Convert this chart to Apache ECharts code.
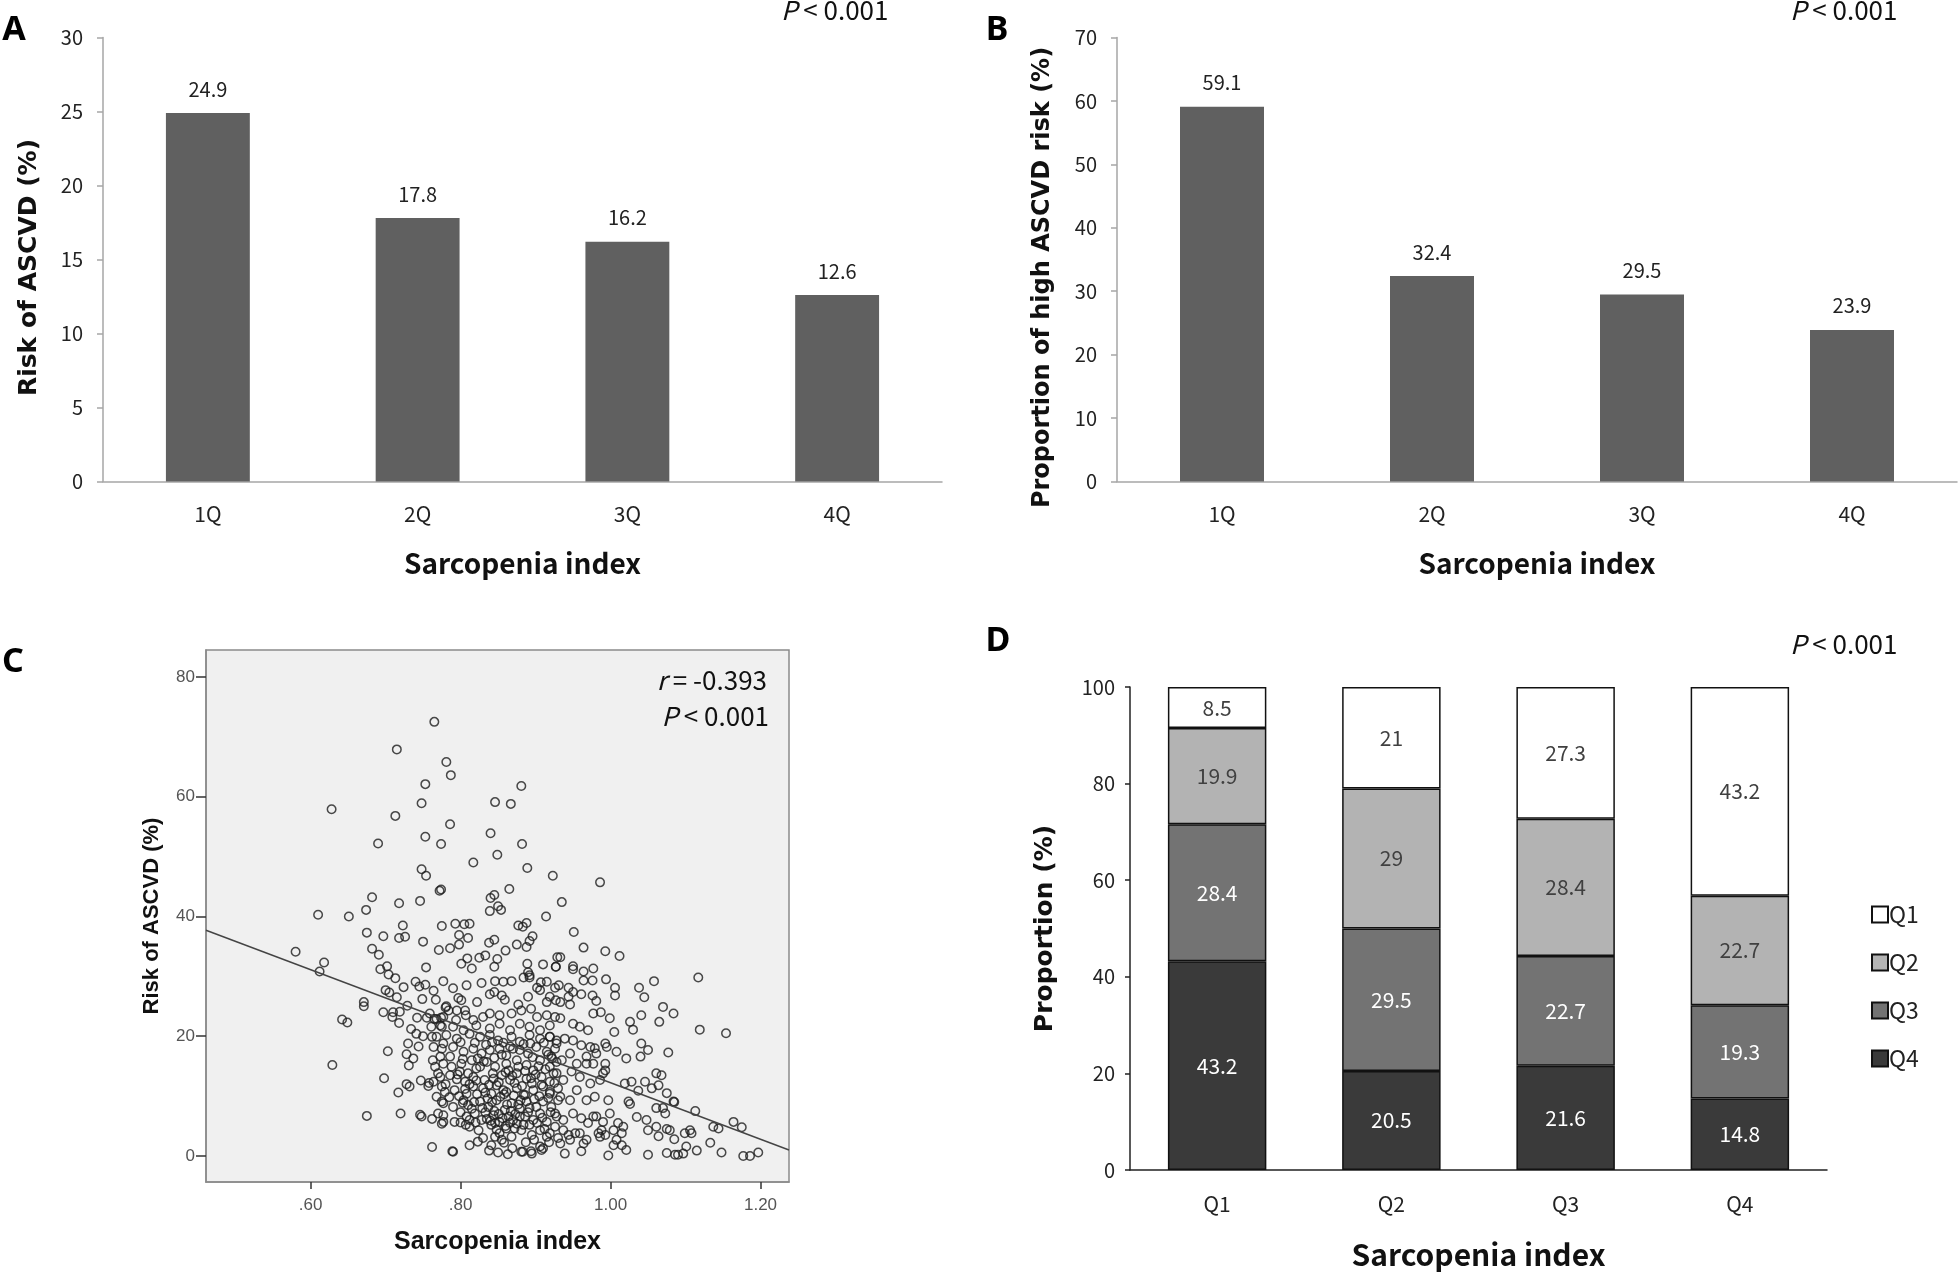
<!DOCTYPE html>
<html>
<head>
<meta charset="utf-8">
<script src="https://cdn.jsdelivr.net/npm/echarts@6/dist/echarts.min.js"></script>
<style>
html,body{margin:0;padding:0;background:#fff;}
#chart{width:1960px;height:1272px;}
</style>
</head>
<body>
<div id="chart"></div>
<script>
// ---------------- DATA ----------------
const catsAB = ['1Q', '2Q', '3Q', '4Q'];
const riskASCVD = [24.9, 17.8, 16.2, 12.6];
const propHighRisk = [59.1, 32.4, 29.5, 23.9];

const catsD = ['Q1', 'Q2', 'Q3', 'Q4'];
const stackQ4 = [43.2, 20.5, 21.6, 14.8];
const stackQ3 = [28.4, 29.5, 22.7, 19.3];
const stackQ2 = [19.9, 29, 28.4, 22.7];
const stackQ1 = [8.5, 21, 27.3, 43.2];

const xTickValsC = [0.6, 0.8, 1.0, 1.2];
const xTickLabelsC = ['.60', '.80', '1.00', '1.20'];
const yTickValsC = [0, 20, 40, 60, 80];

// regression line endpoints (read at the frame edges)
const fitLine = [[0.4605, 37.7], [1.238, 1.0]];

// scatter points [sarcopenia index, risk of ASCVD %]
const scatterPts = [
 [0.765,72.5],[0.715,67.9],[0.781,65.8],[0.787,63.6],[0.753,62.1],[0.881,61.8],[0.748,58.9],[0.846,59.1],[0.867,58.8],[0.628,57.9],
 [0.713,56.8],[0.786,55.4],[0.840,53.9],[0.753,53.3],[0.690,52.2],[0.774,52.1],[0.882,52.1],[0.849,50.3],[0.817,49.0],[0.889,48.1],
 [0.748,47.9],[0.754,46.8],[0.772,44.3],[0.774,44.5],[0.865,44.6],[0.840,43.1],[0.845,43.6],[0.682,43.2],[0.674,41.1],[0.718,42.2],
 [0.746,42.6],[0.839,40.9],[0.850,41.7],[0.854,41.1],[0.610,40.3],[0.651,40.0],[0.923,46.8],[0.986,45.7],[0.935,42.4],[0.914,40.0],
 [0.675,37.3],[0.723,38.5],[0.718,36.4],[0.726,36.6],[0.697,36.7],[0.775,38.4],[0.750,35.8],[0.771,34.4],[0.580,34.1],[0.682,34.6],
 [0.691,33.6],[0.618,32.3],[0.612,30.8],[0.693,31.2],[0.702,31.7],[0.704,30.3],[0.713,29.7],[0.754,31.5],[0.740,29.1],[0.745,28.3],
 [0.753,28.6],[0.724,28.2],[0.777,29.2],[0.700,27.7],[0.705,27.3],[0.715,26.5],[0.749,26.2],[0.764,27.6],[0.767,26.1],[0.729,25.1],
 [0.671,25.7],[0.671,25.0],[0.697,24.0],[0.710,24.0],[0.709,23.2],[0.719,24.1],[0.718,22.2],[0.742,23.1],[0.755,23.1],[0.765,22.9],
 [0.774,23.1],[0.780,24.8],[0.642,22.8],[0.649,22.3],[0.734,21.2],[0.741,20.4],[0.750,20.0],[0.762,19.9],[0.730,18.8],[0.744,18.3],
 [0.728,17.0],[0.737,16.3],[0.731,15.1],[0.703,17.5],[0.629,15.2],[0.763,16.0],[0.698,13.0],[0.747,12.6],[0.758,12.2],[0.728,12.0],
 [0.732,11.6],[0.717,10.6],[0.675,6.7],[0.720,7.1],[0.748,6.6],[0.762,6.2],[0.775,5.4],[0.762,1.5],[0.789,0.8],[0.746,6.9],
 [0.757,11.7],[0.800,5.6],
 [0.759,23.8],[0.768,22.9],[0.761,21.6],[0.773,21.8],[0.768,19.9],[0.777,18.8],[0.764,18.2],[0.773,16.6],[0.766,14.9],[0.770,13.8],
 [0.764,12.4],[0.775,11.6],[0.768,9.9],[0.777,8.8],[0.770,7.1],[0.777,5.7],
 [0.793,38.8],[0.805,38.7],[0.812,38.8],[0.877,38.5],[0.883,38.3],[0.888,38.9],[0.798,36.9],[0.810,36.4],[0.786,34.7],[0.798,35.3],
 [0.838,35.6],[0.845,36.1],[0.875,35.3],[0.892,35.9],[0.896,36.7],[0.888,34.9],[0.860,34.3],[0.825,33.1],[0.833,33.5],[0.849,32.9],
 [0.845,31.6],[0.801,32.1],[0.809,33.0],[0.815,31.3],[0.889,32.1],[0.910,32.0],[0.927,31.6],[0.929,33.2],[0.890,30.7],[0.892,30.2],
 [0.884,29.8],[0.892,29.8],[0.790,28.0],[0.808,28.5],[0.828,28.9],[0.846,29.2],[0.857,29.1],[0.868,29.2],[0.907,29.0],[0.915,29.1],
 [0.931,28.5],[0.902,28.1],[0.906,27.7],[0.822,25.7],[0.839,27.0],[0.845,27.4],[0.855,26.8],[0.859,26.1],[0.797,26.4],[0.801,26.0],
 [0.781,25.0],[0.784,24.3],[0.795,24.3],[0.806,24.3],[0.877,25.3],[0.890,26.6],[0.894,24.6],[0.915,25.7],[0.919,26.6],[0.927,26.0],
 [0.777,23.2],[0.794,22.7],[0.807,23.5],[0.817,22.7],[0.830,23.2],[0.839,23.8],[0.852,23.5],[0.868,23.8],[0.881,24.3],[0.902,23.2],
 [0.915,23.5],[0.926,23.2],[0.775,21.6],[0.790,21.6],[0.804,21.0],[0.821,21.8],[0.839,21.3],[0.852,22.1],[0.866,21.0],[0.879,22.1],
 [0.892,21.6],[0.906,21.0],[0.919,21.8],
 [0.781,20.2],[0.795,19.6],[0.812,20.4],[0.826,19.9],[0.839,20.2],[0.850,19.3],[0.868,19.9],[0.879,19.1],[0.892,20.2],[0.906,19.6],
 [0.919,19.9],[0.928,19.3],[0.775,17.9],[0.790,18.2],[0.804,17.4],[0.817,17.9],[0.828,17.1],[0.839,17.7],[0.852,17.9],[0.861,16.8],
 [0.879,17.7],[0.890,17.1],[0.901,18.2],[0.915,17.4],[0.926,17.9],[0.777,15.4],[0.788,14.9],[0.801,15.4],[0.815,16.0],[0.821,14.6],
 [0.835,15.7],[0.846,14.9],[0.861,15.4],[0.864,14.3],[0.875,16.0],[0.888,15.2],[0.897,14.3],[0.906,16.0],[0.919,14.9],[0.928,15.7],
 [0.773,13.2],[0.786,13.5],[0.799,14.1],[0.806,12.4],[0.817,13.2],[0.832,12.7],[0.844,12.9],[0.855,13.5],[0.866,12.7],[0.875,13.8],
 [0.888,12.9],[0.895,12.1],[0.908,13.2],[0.919,12.4],[0.928,13.8],[0.779,10.7],[0.792,11.0],[0.808,10.4],[0.817,11.6],[0.830,11.3],
 [0.841,10.4],[0.848,11.8],[0.861,10.7],[0.875,11.3],[0.884,10.2],[0.897,11.0],[0.910,11.6],[0.919,10.4],[0.930,11.3],[0.775,9.1],
 [0.790,8.2],[0.804,9.3],[0.815,7.9],[0.826,9.1],[0.837,8.2],[0.848,9.3],[0.859,7.7],[0.868,8.8],[0.879,7.9],[0.888,9.1],
 [0.901,8.2],[0.910,9.1],[0.921,8.2],[0.930,9.3],[0.777,6.8],[0.792,5.7],[0.808,6.6],[0.819,7.1],[0.828,6.0],[0.844,6.8],
 [0.852,5.7],[0.864,6.6],[0.875,5.4],[0.886,6.6],[0.897,6.0],[0.906,7.1],[0.915,5.7],[0.928,6.6],[0.812,4.9],[0.824,4.3],
 [0.841,5.2],[0.852,3.8],[0.861,4.6],[0.868,3.2],[0.881,4.3],[0.895,3.5],[0.906,4.3],[0.915,3.2],[0.926,4.9],[0.790,0.7],
 [0.812,1.8],[0.841,1.8],[0.855,2.7],[0.881,0.7],[0.895,0.4],[0.906,1.6],[0.910,1.3],
 [0.786,16.6],[0.800,19.0],[0.810,13.8],[0.823,16.3],[0.834,18.6],[0.845,16.4],[0.857,18.9],[0.870,17.9],[0.884,18.7],[0.896,16.5],
 [0.911,18.9],[0.922,16.3],[0.780,12.0],[0.795,12.8],[0.812,12.0],[0.826,14.9],[0.838,11.9],[0.851,12.3],[0.860,14.0],[0.872,12.2],
 [0.886,14.2],[0.900,13.6],[0.913,14.5],[0.925,12.2],[0.785,9.8],[0.798,10.0],[0.810,8.5],[0.822,10.3],[0.836,9.6],[0.845,7.5],
 [0.853,9.9],[0.862,8.6],[0.871,10.1],[0.880,9.3],[0.892,8.0],[0.905,10.0],[0.917,9.7],[0.800,7.3],[0.812,6.0],[0.833,7.3],
 [0.840,5.9],[0.848,4.4],[0.856,6.3],[0.866,5.5],[0.873,7.0],[0.884,5.2],[0.890,7.3],[0.902,5.5],[0.912,4.5],[0.920,7.3],
 [0.830,3.0],[0.846,3.2],[0.858,2.2],[0.872,4.6],[0.887,2.3],[0.898,2.7],[0.918,2.3],[0.869,1.3],[0.850,0.6],[0.863,0.3],
 [0.838,0.9],[0.883,0.7],[0.894,0.8],[0.908,1.0],
 [0.803,16.2],[0.819,18.9],[0.831,15.8],[0.842,19.0],[0.855,16.9],[0.866,18.3],[0.877,14.9],[0.893,18.8],[0.904,15.0],[0.917,16.9],
 [0.796,13.6],[0.806,11.2],[0.821,12.6],[0.833,10.6],[0.843,13.8],[0.857,11.0],[0.869,13.4],[0.882,11.7],[0.894,13.0],[0.908,11.9],
 [0.803,8.9],[0.818,9.0],[0.829,8.0],[0.842,9.0],[0.851,7.0],[0.858,10.3],[0.867,7.5],[0.877,8.6],[0.886,10.2],[0.898,9.5],
 [0.807,5.2],[0.820,5.6],[0.835,6.2],[0.846,5.5],[0.860,5.0],[0.870,6.0],[0.879,6.6],[0.892,5.2],[0.909,6.4],[0.823,2.4],
 [0.951,37.4],[0.964,34.8],[0.993,34.2],[1.012,33.4],[0.933,33.2],[0.927,31.6],[0.950,31.7],[0.950,31.2],[0.964,30.8],[0.977,31.3],
 [0.964,29.3],[0.976,29.3],[0.994,29.5],[1.006,28.1],[1.006,26.8],[1.058,29.2],[1.038,28.1],[1.045,26.5],[0.926,28.1],[0.944,28.1],
 [0.950,27.4],[0.933,25.7],[0.946,25.3],[0.961,27.0],[0.944,26.6],[0.976,26.8],[0.981,25.9],[0.977,23.8],[0.987,24.0],[0.999,23.0],
 [1.070,24.9],[1.084,23.8],[1.065,22.4],[1.041,23.5],[1.026,22.4],[1.030,21.1],[1.005,20.7],[0.933,23.0],[0.950,22.1],[0.959,21.6],
 [0.970,21.0],[0.993,18.8],[0.995,18.2],[0.979,18.0],[1.041,18.8],[1.050,17.7],[1.040,16.6],[1.021,16.3],[1.008,17.4],[1.077,17.3],
 [0.968,15.4],[0.977,15.4],[0.990,13.8],[0.993,15.4],[1.019,12.1],[1.028,12.4],[1.037,10.9],[1.024,9.1],[1.026,8.7],[1.046,12.4],
 [1.055,11.3],[1.061,13.8],[1.068,13.5],[1.064,11.8],[1.075,10.5],[1.084,9.1],[1.061,8.0],[1.070,8.0],[1.073,7.1],[1.035,6.5],
 [1.048,6.0],[1.050,4.3],[1.061,4.9],[1.075,4.5],[1.064,3.3],[1.085,2.8],[1.004,4.3],[1.015,3.8],[1.004,1.8],[1.021,1.0],
 [0.997,0.1],[1.050,0.2],[1.075,0.5],[1.086,0.2],[0.939,0.4],[0.961,0.8],[0.964,2.1],[0.986,3.2],[0.988,4.3],[0.990,5.7],
 [0.977,6.6],[0.933,2.1],[0.946,2.7],[0.953,3.8],[0.937,4.3],
 [0.919,19.9],[0.928,18.8],[0.939,19.6],[0.950,19.3],[0.961,18.5],[0.973,18.2],[0.921,16.6],[0.935,16.0],[0.946,17.1],[0.955,15.4],
 [0.968,16.6],[0.981,17.1],[0.924,13.8],[0.937,12.7],[0.948,14.1],[0.959,13.2],[0.973,12.1],[0.986,12.7],[0.993,14.3],[0.919,10.7],
 [0.933,9.9],[0.946,9.3],[0.955,11.0],[0.968,9.3],[0.979,9.9],[0.997,9.3],[0.926,7.1],[0.937,6.0],[0.950,7.1],[0.961,6.3],
 [0.970,5.5],[0.981,6.6],[0.999,7.1],[1.010,5.5],[1.017,4.9],[0.919,3.8],[0.930,3.0],[0.944,3.5],[0.959,3.8],[0.968,2.7],
 [0.984,3.8],[0.993,3.5],[1.008,2.7],[1.015,1.8],
 [1.117,29.8],[1.119,21.1],[1.154,20.5],[1.085,9.0],[1.113,7.5],[1.164,5.7],[1.175,4.8],[1.137,4.9],[1.144,4.6],[1.079,4.3],
 [1.099,3.8],[1.106,4.3],[1.108,3.8],[1.133,2.2],[1.115,0.9],[1.148,0.6],[1.177,0.0],[1.186,0.0],[1.197,0.6],[1.090,0.2],
 [1.097,0.4],[1.101,1.6]
];

// ---------------- STYLE ----------------
const fKR = '"Noto Sans CJK KR", "Noto Sans", sans-serif';
const fBoldWide = '"DejaVu Sans", sans-serif';
const fSPSS = '"Liberation Sans Narrow", "Liberation Sans", Arial, sans-serif';
const barGray = '#606060';
const axisGray = '#a6a6a6';

function barPanelAxes(gridIndex, cats, yMax, yName, yNameSize, yNameGap, yNamePad) {
  return {
    x: {
      type: 'category', gridIndex, data: cats,
      axisLine: { lineStyle: { color: axisGray, width: 1.5 } },
      axisTick: { show: false },
      axisLabel: { color: '#222', fontSize: 21, fontFamily: fKR, margin: 22 },
      name: 'Sarcopenia index', nameLocation: 'middle', nameGap: 68,
      nameTextStyle: { color: '#111', fontSize: 28, fontFamily: fKR, fontWeight: 'bold' }
    },
    y: {
      type: 'value', gridIndex, min: 0, max: yMax, interval: yMax === 30 ? 5 : 10,
      splitLine: { show: false },
      axisLine: { show: true, lineStyle: { color: axisGray, width: 1.5 } },
      axisTick: { show: true, length: 6, lineStyle: { color: axisGray, width: 1.5 } },
      axisLabel: { color: '#222', fontSize: 20, fontFamily: fKR, margin: 20 },
      name: yName, nameLocation: 'middle', nameGap: yNameGap, nameRotate: 90,
      nameTextStyle: { color: '#111', fontSize: yNameSize, fontFamily: fBoldWide, fontWeight: 'bold', padding: yNamePad }
    }
  };
}

const axA = barPanelAxes(0, catsAB, 30, 'Risk of ASCVD (%)', 25, 61, [0, 16, 0, 0]);
const axB = barPanelAxes(1, catsAB, 70, 'Proportion of high ASCVD risk (%)', 24, 62, [0, 36, 0, 0]);

const stackColors = { Q1: '#ffffff', Q2: '#b3b3b3', Q3: '#737373', Q4: '#3a3a3a' };
function stackSeries(name, data, labelColor) {
  return {
    type: 'bar', name, stack: 'd', xAxisIndex: 3, yAxisIndex: 3, data,
    barWidth: '56.5%',
    itemStyle: { color: stackColors[name], borderColor: '#111', borderWidth: 1.5 },
    label: { show: true, position: 'inside', color: labelColor, fontSize: 21, fontFamily: fKR },
    z: 2
  };
}

const chart = echarts.init(document.getElementById('chart'), null, { renderer: 'canvas' });

const pText = (size) => ({ text: '{i|P} < 0.001', rich: { i: { fontStyle: 'italic', fontSize: size, fontFamily: fKR, fill: '#111' } }, fontSize: size, fontFamily: fKR, fill: '#111', textVerticalAlign: 'middle' });

const option = {
  backgroundColor: '#ffffff',
  animation: false,
  grid: [
    { left: 103, top: 37.5, width: 839, height: 444 },
    { left: 1117, top: 37.5, width: 840, height: 444 },
    { left: 206, top: 650, width: 583, height: 532, show: true, backgroundColor: '#f0f0f0', borderColor: '#8a8a8a', borderWidth: 1.5 },
    { left: 1130, top: 687, width: 697, height: 483 }
  ],
  legend: {
    orient: 'vertical', left: 1866, top: 898,
    data: ['Q1', 'Q2', 'Q3', 'Q4'],
    itemWidth: 16, itemHeight: 16, itemGap: 25,
    icon: 'rect',
    textStyle: { color: '#222', fontSize: 23, fontFamily: fKR, padding: [0, 0, 0, -4] }
  },
  xAxis: [
    axA.x, axB.x,
    {
      type: 'value', gridIndex: 2, min: 0.4605, max: 1.238,
      splitLine: { show: false },
      axisLine: { show: true, onZero: false, lineStyle: { color: '#8a8a8a', width: 1.5 } },
      axisTick: { show: true, inside: false, length: 7, customValues: xTickValsC, lineStyle: { color: '#333', width: 1.5 } },
      axisLabel: {
        customValues: xTickValsC, color: '#555', fontSize: 17, fontFamily: fSPSS, margin: 15,
        formatter: v => xTickLabelsC[xTickValsC.findIndex(t => Math.abs(t - v) < 1e-6)]
      },
      name: 'Sarcopenia index', nameLocation: 'middle', nameGap: 48,
      nameTextStyle: { color: '#111', fontSize: 25, fontFamily: fSPSS, fontWeight: 'bold' }
    },
    {
      type: 'category', gridIndex: 3, data: catsD,
      axisLine: { lineStyle: { color: '#222', width: 1.5 } },
      axisTick: { show: false },
      axisLabel: { color: '#222', fontSize: 21, fontFamily: fKR, margin: 24 },
      name: 'Sarcopenia index', nameLocation: 'middle', nameGap: 70,
      nameTextStyle: { color: '#111', fontSize: 30, fontFamily: fKR, fontWeight: 'bold' }
    }
  ],
  yAxis: [
    axA.y, axB.y,
    {
      type: 'value', gridIndex: 2, min: -4.34, max: 84.5,
      splitLine: { show: false },
      axisLine: { show: true, onZero: false, lineStyle: { color: '#8a8a8a', width: 1.5 } },
      axisTick: { show: true, inside: false, length: 10, customValues: yTickValsC, lineStyle: { color: '#333', width: 1.5 } },
      axisLabel: { customValues: yTickValsC, color: '#555', fontSize: 17, fontFamily: fSPSS, margin: 11 },
      name: 'Risk of ASCVD (%)', nameLocation: 'middle', nameGap: 43, nameRotate: 90,
      nameTextStyle: { color: '#111', fontSize: 22, fontFamily: '"Liberation Sans", Arial, sans-serif', fontWeight: 'bold' }
    },
    {
      type: 'value', gridIndex: 3, min: 0, max: 100, interval: 20,
      splitLine: { show: false },
      axisLine: { show: true, lineStyle: { color: '#222', width: 1.5 } },
      axisTick: { show: true, length: 5, lineStyle: { color: '#222', width: 1.5 } },
      axisLabel: { color: '#222', fontSize: 20, fontFamily: fKR, margin: 15 },
      name: 'Proportion (%)', nameLocation: 'middle', nameGap: 72, nameRotate: 90,
      nameTextStyle: { color: '#111', fontSize: 25, fontFamily: fBoldWide, fontWeight: 'bold' }
    }
  ],
  series: [
    {
      type: 'bar', xAxisIndex: 0, yAxisIndex: 0, data: riskASCVD, barWidth: '40%',
      itemStyle: { color: barGray },
      label: { show: true, position: 'top', distance: 14, color: '#222', fontSize: 20, fontFamily: fKR, formatter: p => p.value.toFixed(1) }
    },
    {
      type: 'bar', xAxisIndex: 1, yAxisIndex: 1, data: propHighRisk, barWidth: '40%',
      itemStyle: { color: barGray },
      label: { show: true, position: 'top', distance: 14, color: '#222', fontSize: 20, fontFamily: fKR, formatter: p => p.value.toFixed(1) }
    },
    {
      type: 'scatter', xAxisIndex: 2, yAxisIndex: 2, data: scatterPts,
      symbol: 'circle', symbolSize: 8.5,
      itemStyle: { color: 'rgba(0,0,0,0)', borderColor: '#1e1e1e', borderWidth: 1.5 },
      z: 3
    },
    {
      type: 'line', xAxisIndex: 2, yAxisIndex: 2, data: fitLine,
      symbol: 'none', lineStyle: { color: '#444', width: 1.4 }, z: 4
    },
    stackSeries('Q4', stackQ4, '#ffffff'),
    stackSeries('Q3', stackQ3, '#ffffff'),
    stackSeries('Q2', stackQ2, '#404040'),
    stackSeries('Q1', stackQ1, '#404040')
  ],
  graphic: [
    { type: 'text', x: 14, y: 30, style: { text: 'A', font: 'bold 34px "Noto Sans", sans-serif', fill: '#000', textAlign: 'center', textVerticalAlign: 'middle' } },
    { type: 'text', x: 997, y: 30, style: { text: 'B', font: 'bold 34px "Noto Sans", sans-serif', fill: '#000', textAlign: 'center', textVerticalAlign: 'middle' } },
    { type: 'text', x: 13, y: 662, style: { text: 'C', font: 'bold 34px "Noto Sans", sans-serif', fill: '#000', textAlign: 'center', textVerticalAlign: 'middle' } },
    { type: 'text', x: 998, y: 641, style: { text: 'D', font: 'bold 34px "Noto Sans", sans-serif', fill: '#000', textAlign: 'center', textVerticalAlign: 'middle' } },
    { type: 'text', x: 781, y: 10, style: Object.assign(pText(26), { textAlign: 'left' }) },
    { type: 'text', x: 1790, y: 10, style: Object.assign(pText(26), { textAlign: 'left' }) },
    { type: 'text', x: 1790, y: 644, style: Object.assign(pText(26), { textAlign: 'left' }) },
    { type: 'text', x: 767, y: 680, z: 10, style: { text: '{i|r} = -0.393', rich: { i: { fontStyle: 'italic', fontSize: 26, fontFamily: fKR, fill: '#111' } }, fontSize: 26, fontFamily: fKR, fill: '#111', textAlign: 'right', textVerticalAlign: 'middle' } },
    { type: 'text', x: 769, y: 716, z: 10, style: Object.assign(pText(26), { textAlign: 'right' }) }
  ]
};
chart.setOption(option);
</script>
</body>
</html>
